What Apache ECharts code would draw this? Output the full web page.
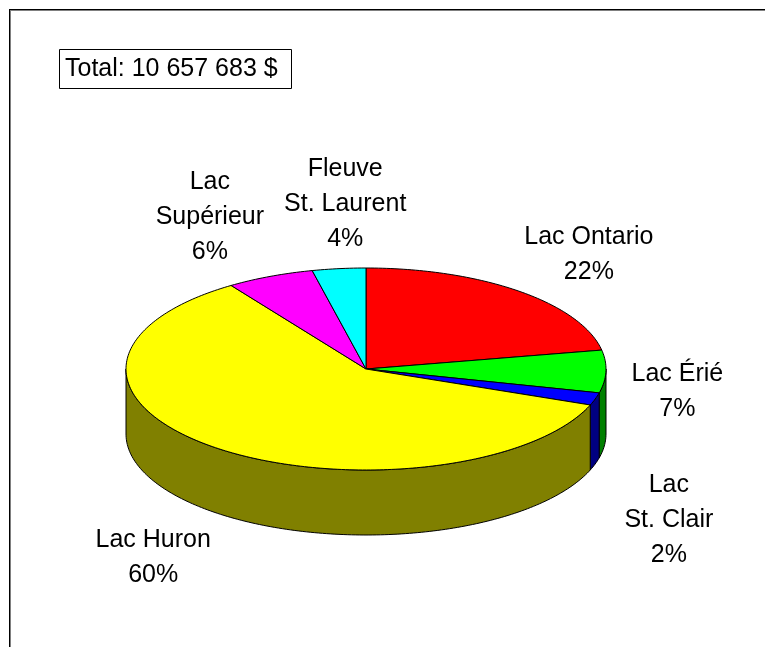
<!DOCTYPE html>
<html>
<head>
<meta charset="utf-8">
<title>Pie 3D</title>
<script src="https://cdn.jsdelivr.net/npm/echarts@6/dist/echarts.min.js"></script>
<style>
  html, body { margin: 0; padding: 0; background: #fff; }
  #main { width: 765px; height: 647px; }
</style>
</head>
<body>
<div id="main"></div>
<script>
// slices, clockwise from 12 o'clock
var lakeNames = ['Lac Ontario', 'Lac Érié', 'Lac\nSt. Clair', 'Lac Huron', 'Lac\nSupérieur', 'Fleuve\nSt. Laurent'];
var amounts = [2344690, 724722, 213154, 6362637, 628803, 383677];
var topColors = ['#ff0000', '#00ff00', '#0000ff', '#ffff00', '#ff00ff', '#00ffff'];
var sideColors = ['#800000', '#008000', '#000080', '#808000', '#800080', '#008080'];

var FONT_SIZE = 25;
var FONT_FAMILY = 'Liberation Sans';
var LINE_H = 35;

// pie geometry (tilted ellipse + thickness)
var cx = 366, cy = 369, rx = 240, ry = 101, depth = 65;

var total = 0;
for (var i = 0; i < amounts.length; i++) total += amounts[i];

// start / end angle in degrees, going clockwise from 90
var angles = [];
var acc = 0;
for (var i = 0; i < amounts.length; i++) {
    var a0 = 90 - acc / total * 360;
    acc += amounts[i];
    var a1 = 90 - acc / total * 360;
    angles.push([a0, a1]);
}

function ept(t, dy) {
    var r = t * Math.PI / 180;
    return [cx + rx * Math.cos(r), cy - ry * Math.sin(r) + (dy || 0)];
}

function arc(from, to, dy) {
    // from > to, clockwise
    var pts = [];
    var n = Math.max(2, Math.ceil(from - to));
    for (var k = 0; k <= n; k++) {
        pts.push(ept(from - (from - to) * k / n, dy));
    }
    return pts;
}

// label layout
var measureCtx = document.createElement('canvas').getContext('2d');
measureCtx.font = FONT_SIZE + 'px "' + FONT_FAMILY + '"';

function labelText(i) {
    return lakeNames[i] + '\n' + Math.round(amounts[i] / total * 100) + '%';
}

var labels = [];
for (var i = 0; i < amounts.length; i++) {
    var lines = labelText(i).split('\n');
    var w = 0;
    for (var k = 0; k < lines.length; k++) {
        w = Math.max(w, measureCtx.measureText(lines[k]).width);
    }
    var h = lines.length * LINE_H;
    var m = (angles[i][0] + angles[i][1]) / 2 * Math.PI / 180;
    var c = Math.cos(m), s = Math.sin(m);
    var low = Math.min(1, Math.max(0, -s) * 8);   // how far into the front wall
    var px = cx + (rx + 25) * c + 26 * c * Math.abs(s);
    var py = cy - (ry + 12) * s + depth * low;
    labels.push({
        x: px + w * c / 2,
        y: s > 0 ? py - h * s / 2 : py + h * low / 2,
        w: w,
        h: h
    });
}
// push overlapping labels apart sideways
for (var pass = 0; pass < 5; pass++) {
    for (var i = 0; i < labels.length; i++) {
        for (var j = i + 1; j < labels.length; j++) {
            var A = labels[i], B = labels[j];
            var ox = (A.w + B.w) / 2 + 20 - Math.abs(A.x - B.x);
            var oy = (A.h + B.h) / 2 - Math.abs(A.y - B.y);
            if (ox > 0 && oy > 0) {
                var dir = A.x < B.x ? -1 : 1;
                A.x += dir * ox / 2;
                B.x -= dir * ox / 2;
            }
        }
    }
}

var thousands = String(total).replace(/\B(?=(\d{3})+(?!\d))/g, ' ');

var myChart = echarts.init(document.getElementById('main'), null, { renderer: 'canvas' });

var option = {
    backgroundColor: '#ffffff',
    animation: false,
    graphic: [
        {
            type: 'line', silent: true,
            shape: { x1: 9, y1: 9.5, x2: 765, y2: 9.5 },
            style: { stroke: '#000', lineWidth: 1 }
        },
        {
            type: 'line', silent: true,
            shape: { x1: 9, y1: 10.5, x2: 765, y2: 10.5 },
            style: { stroke: '#808080', lineWidth: 1 }
        },
        {
            type: 'line', silent: true,
            shape: { x1: 9.5, y1: 9, x2: 9.5, y2: 647 },
            style: { stroke: '#000', lineWidth: 1 }
        },
        {
            type: 'line', silent: true,
            shape: { x1: 10.5, y1: 11, x2: 10.5, y2: 647 },
            style: { stroke: '#808080', lineWidth: 1 }
        },
        {
            type: 'rect', silent: true,
            shape: { x: 59.5, y: 49.5, width: 232, height: 39 },
            style: { fill: '#fff', stroke: '#000', lineWidth: 1 }
        },
        {
            type: 'text', silent: true,
            style: {
                text: 'Total: ' + thousands + ' $',
                x: 65, y: 69,
                verticalAlign: 'middle',
                fontSize: FONT_SIZE,
                fontFamily: FONT_FAMILY,
                fill: '#000'
            }
        }
    ],
    series: [
        {
            // outer walls, front half only
            type: 'custom',
            coordinateSystem: 'none',
            silent: true,
            z: 1,
            data: amounts,
            renderItem: function (params, api) {
                var i = params.dataIndex;
                var s = Math.min(angles[i][0], 0);
                var e = Math.max(angles[i][1], -180);
                if (s <= e) return null;
                var pts = arc(s, e, 0).concat(arc(s, e, depth).reverse());
                return {
                    type: 'polygon',
                    shape: { points: pts },
                    style: { fill: sideColors[i], stroke: '#000', lineWidth: 1 }
                };
            }
        },
        {
            // top faces + labels
            type: 'custom',
            coordinateSystem: 'none',
            silent: true,
            z: 2,
            data: amounts,
            renderItem: function (params, api) {
                var i = params.dataIndex;
                var pts = [[cx, cy]].concat(arc(angles[i][0], angles[i][1], 0));
                return {
                    type: 'group',
                    children: [
                        {
                            type: 'polygon',
                            shape: { points: pts },
                            style: { fill: topColors[i], stroke: '#000', lineWidth: 1 }
                        },
                        {
                            type: 'text',
                            style: {
                                text: labelText(i),
                                x: labels[i].x,
                                y: labels[i].y,
                                align: 'center',
                                verticalAlign: 'middle',
                                lineHeight: LINE_H,
                                fontSize: FONT_SIZE,
                                fontFamily: FONT_FAMILY,
                                fill: '#000'
                            }
                        }
                    ]
                };
            }
        }
    ]
};

myChart.setOption(option);
</script>
</body>
</html>
